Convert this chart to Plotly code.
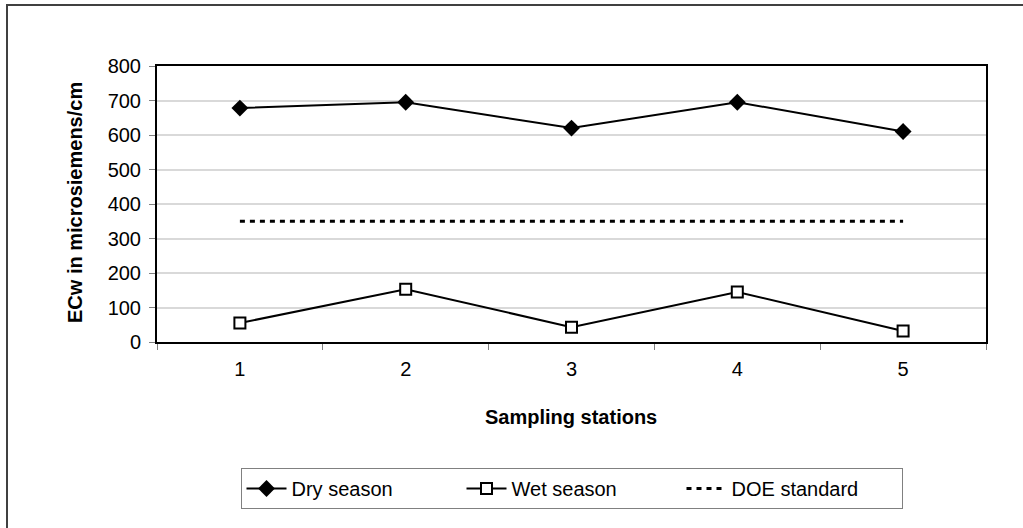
import plotly.graph_objects as go

# Sampling stations and measured ECw (microsiemens/cm)
stations = ["1", "2", "3", "4", "5"]
dry_season = [678, 695, 620, 695, 610]
wet_season = [55, 153, 43, 145, 32]
doe_standard = [350, 350, 350, 350, 350]

y_ticks = [0, 100, 200, 300, 400, 500, 600, 700, 800]

W, H = 1023, 528
L, R, T, B = 157, 37, 66, 186
pw, ph = W - L - R, H - T - B


def px_x(px):
    return (px - L) / pw


def px_y(py):
    return (H - B - py) / ph


font_family = "Liberation Sans, Arial, sans-serif"

fig = go.Figure()
fig.add_trace(go.Scatter(
    x=stations, y=dry_season, name="Dry season", mode="lines+markers",
    line=dict(color="black", width=2),
    marker=dict(symbol="diamond", size=13, color="black"),
))
fig.add_trace(go.Scatter(
    x=stations, y=wet_season, name="Wet season", mode="lines+markers",
    line=dict(color="black", width=2),
    marker=dict(symbol="square", size=11, color="white",
                line=dict(color="black", width=2)),
))
fig.add_trace(go.Scatter(
    x=stations, y=doe_standard, name="DOE standard", mode="lines",
    line=dict(color="black", width=3, dash="5px,5px"),
))

fig.update_layout(
    width=W, height=H,
    margin=dict(l=L, r=R, t=T, b=B, autoexpand=False),
    paper_bgcolor="white", plot_bgcolor="white",
    font=dict(family=font_family, size=20, color="black"),
    showlegend=True,
    legend=dict(
        orientation="h", x=0.5, xanchor="center", y=px_y(468), yanchor="top",
        bordercolor="#808080", borderwidth=1, bgcolor="white",
        font=dict(size=20), itemwidth=40, tracegroupgap=0,
        entrywidth=165, entrywidthmode="pixels",
    ),
    xaxis=dict(
        type="category", range=[-0.5, 4.5],
        tickson="boundaries", ticks="outside", ticklen=6, tickwidth=1,
        tickcolor="#808080",
        showline=True, linecolor="black", linewidth=2, mirror=True,
        showgrid=False, zeroline=False, ticklabelstandoff=8,
        tickfont=dict(size=20),
    ),
    yaxis=dict(
        range=[0, 800], tickvals=y_ticks, ticks="outside", ticklen=6,
        tickwidth=1, tickcolor="#808080",
        showline=True, linecolor="black", linewidth=2, mirror=True,
        showgrid=True, gridcolor="#d9d9d9", gridwidth=1.5,
        zeroline=False, ticklabelstandoff=4,
        tickfont=dict(size=20),
    ),
    annotations=[
        dict(text="<b>Sampling stations</b>", xref="paper", yref="paper",
             x=px_x(571), y=px_y(417), xanchor="center", yanchor="middle",
             showarrow=False, font=dict(size=20)),
        dict(text="<b>ECw in microsiemens/cm</b>", xref="paper", yref="paper",
             x=px_x(75), y=px_y(203), xanchor="center", yanchor="middle",
             textangle=-90, showarrow=False, font=dict(size=20)),
    ],
    shapes=[
        dict(type="rect", xref="paper", yref="paper",
             x0=px_x(7), y0=px_y(535), x1=px_x(1030), y1=px_y(5),
             line=dict(color="#404040", width=2), fillcolor="rgba(0,0,0,0)",
             layer="below"),
    ],
)

fig.write_html("out.html")
